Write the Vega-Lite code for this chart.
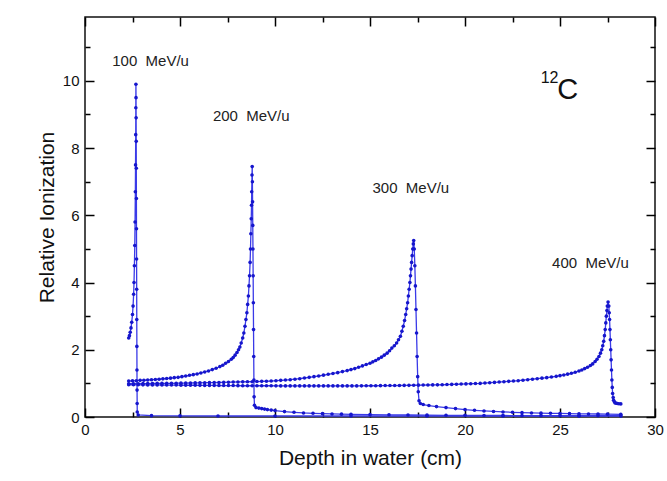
{
  "$schema": "https://vega.github.io/schema/vega-lite/v6.json",
  "width": 570,
  "height": 400,
  "autosize": {"type": "none"},
  "padding": {"left": 85, "top": 17, "right": 12, "bottom": 64},
  "background": "white",
  "config": {
    "view": {"stroke": "#111", "strokeWidth": 1.5},
    "font": "Liberation Sans",
    "axis": {"grid": false, "domain": false, "labelFlush": false, "ticks": true, "tickWidth": 1.5, "labelFont": "Liberation Sans", "titleFont": "Liberation Sans"}
  },
  "datasets": {
    "curves": [
      {"energy": "100", "depth": 2.3, "ion": 2.35}, {"energy": "100", "depth": 2.34, "ion": 2.42}, {"energy": "100", "depth": 2.38, "ion": 2.52}, {"energy": "100", "depth": 2.42, "ion": 2.65}, {"energy": "100", "depth": 2.46, "ion": 2.82}, {"energy": "100", "depth": 2.5, "ion": 3.05}, {"energy": "100", "depth": 2.53, "ion": 3.3}, {"energy": "100", "depth": 2.56, "ion": 3.65}, {"energy": "100", "depth": 2.58, "ion": 4.0}, {"energy": "100", "depth": 2.6, "ion": 4.5}, {"energy": "100", "depth": 2.62, "ion": 5.1}, {"energy": "100", "depth": 2.635, "ion": 5.8}, {"energy": "100", "depth": 2.65, "ion": 6.7}, {"energy": "100", "depth": 2.66, "ion": 7.5}, {"energy": "100", "depth": 2.67, "ion": 8.4}, {"energy": "100", "depth": 2.675, "ion": 9.2}, {"energy": "100", "depth": 2.68, "ion": 9.9}, {"energy": "100", "depth": 2.685, "ion": 9.5}, {"energy": "100", "depth": 2.69, "ion": 8.9}, {"energy": "100", "depth": 2.695, "ion": 8.2}, {"energy": "100", "depth": 2.7, "ion": 7.4}, {"energy": "100", "depth": 2.705, "ion": 6.5}, {"energy": "100", "depth": 2.71, "ion": 5.6}, {"energy": "100", "depth": 2.715, "ion": 4.7}, {"energy": "100", "depth": 2.72, "ion": 3.8}, {"energy": "100", "depth": 2.725, "ion": 2.9}, {"energy": "100", "depth": 2.73, "ion": 2.1}, {"energy": "100", "depth": 2.735, "ion": 1.4}, {"energy": "100", "depth": 2.74, "ion": 0.8}, {"energy": "100", "depth": 2.745, "ion": 0.4}, {"energy": "100", "depth": 2.75, "ion": 0.15}, {"energy": "100", "depth": 2.8, "ion": 0.06}, {"energy": "100", "depth": 3.5, "ion": 0.04}, {"energy": "100", "depth": 5, "ion": 0.035}, {"energy": "100", "depth": 7, "ion": 0.03}, {"energy": "100", "depth": 10, "ion": 0.03}, {"energy": "100", "depth": 14, "ion": 0.03}, {"energy": "100", "depth": 18, "ion": 0.03}, {"energy": "100", "depth": 22, "ion": 0.03}, {"energy": "100", "depth": 26, "ion": 0.03}, {"energy": "100", "depth": 28.2, "ion": 0.03},

      {"energy": "200", "depth": 2.3, "ion": 1.07}, {"energy": "200", "depth": 2.5, "ion": 1.075}, {"energy": "200", "depth": 2.7, "ion": 1.08}, {"energy": "200", "depth": 2.9, "ion": 1.09}, {"energy": "200", "depth": 3.1, "ion": 1.095}, {"energy": "200", "depth": 3.3, "ion": 1.1}, {"energy": "200", "depth": 3.5, "ion": 1.11}, {"energy": "200", "depth": 3.7, "ion": 1.115}, {"energy": "200", "depth": 3.9, "ion": 1.125}, {"energy": "200", "depth": 4.1, "ion": 1.135}, {"energy": "200", "depth": 4.3, "ion": 1.145}, {"energy": "200", "depth": 4.5, "ion": 1.155}, {"energy": "200", "depth": 4.7, "ion": 1.17}, {"energy": "200", "depth": 4.9, "ion": 1.18}, {"energy": "200", "depth": 5.1, "ion": 1.2}, {"energy": "200", "depth": 5.3, "ion": 1.22}, {"energy": "200", "depth": 5.5, "ion": 1.24}, {"energy": "200", "depth": 5.7, "ion": 1.26}, {"energy": "200", "depth": 5.9, "ion": 1.28}, {"energy": "200", "depth": 6.1, "ion": 1.31}, {"energy": "200", "depth": 6.3, "ion": 1.34}, {"energy": "200", "depth": 6.5, "ion": 1.37}, {"energy": "200", "depth": 6.7, "ion": 1.41}, {"energy": "200", "depth": 6.9, "ion": 1.45}, {"energy": "200", "depth": 7.1, "ion": 1.5}, {"energy": "200", "depth": 7.25, "ion": 1.54}, {"energy": "200", "depth": 7.4, "ion": 1.6}, {"energy": "200", "depth": 7.55, "ion": 1.65}, {"energy": "200", "depth": 7.7, "ion": 1.72}, {"energy": "200", "depth": 7.8, "ion": 1.77}, {"energy": "200", "depth": 7.9, "ion": 1.84}, {"energy": "200", "depth": 8.0, "ion": 1.92}, {"energy": "200", "depth": 8.08, "ion": 2.0}, {"energy": "200", "depth": 8.15, "ion": 2.08}, {"energy": "200", "depth": 8.22, "ion": 2.2}, {"energy": "200", "depth": 8.3, "ion": 2.35}, {"energy": "200", "depth": 8.36, "ion": 2.5}, {"energy": "200", "depth": 8.42, "ion": 2.7}, {"energy": "200", "depth": 8.47, "ion": 2.9}, {"energy": "200", "depth": 8.52, "ion": 3.1}, {"energy": "200", "depth": 8.56, "ion": 3.35}, {"energy": "200", "depth": 8.6, "ion": 3.6}, {"energy": "200", "depth": 8.63, "ion": 3.9}, {"energy": "200", "depth": 8.66, "ion": 4.2}, {"energy": "200", "depth": 8.69, "ion": 4.6}, {"energy": "200", "depth": 8.71, "ion": 5.0}, {"energy": "200", "depth": 8.73, "ion": 5.45}, {"energy": "200", "depth": 8.75, "ion": 5.9}, {"energy": "200", "depth": 8.765, "ion": 6.3}, {"energy": "200", "depth": 8.775, "ion": 6.7}, {"energy": "200", "depth": 8.79, "ion": 7.2}, {"energy": "200", "depth": 8.8, "ion": 7.45}, {"energy": "200", "depth": 8.81, "ion": 7.0}, {"energy": "200", "depth": 8.82, "ion": 6.4}, {"energy": "200", "depth": 8.83, "ion": 5.7}, {"energy": "200", "depth": 8.84, "ion": 5.0}, {"energy": "200", "depth": 8.85, "ion": 4.2}, {"energy": "200", "depth": 8.86, "ion": 3.4}, {"energy": "200", "depth": 8.87, "ion": 2.6}, {"energy": "200", "depth": 8.88, "ion": 1.8}, {"energy": "200", "depth": 8.89, "ion": 1.1}, {"energy": "200", "depth": 8.9, "ion": 0.6}, {"energy": "200", "depth": 8.92, "ion": 0.35}, {"energy": "200", "depth": 9.0, "ion": 0.28}, {"energy": "200", "depth": 9.15, "ion": 0.265}, {"energy": "200", "depth": 9.3, "ion": 0.25}, {"energy": "200", "depth": 9.45, "ion": 0.235}, {"energy": "200", "depth": 9.6, "ion": 0.22}, {"energy": "200", "depth": 9.8, "ion": 0.205}, {"energy": "200", "depth": 10.0, "ion": 0.19}, {"energy": "200", "depth": 10.5, "ion": 0.16}, {"energy": "200", "depth": 11, "ion": 0.14}, {"energy": "200", "depth": 11.5, "ion": 0.12}, {"energy": "200", "depth": 12, "ion": 0.11}, {"energy": "200", "depth": 12.5, "ion": 0.1}, {"energy": "200", "depth": 13, "ion": 0.09}, {"energy": "200", "depth": 13.5, "ion": 0.085}, {"energy": "200", "depth": 14, "ion": 0.08}, {"energy": "200", "depth": 15, "ion": 0.07}, {"energy": "200", "depth": 16, "ion": 0.065}, {"energy": "200", "depth": 17, "ion": 0.06}, {"energy": "200", "depth": 18, "ion": 0.055}, {"energy": "200", "depth": 19, "ion": 0.05}, {"energy": "200", "depth": 20, "ion": 0.05}, {"energy": "200", "depth": 21, "ion": 0.045}, {"energy": "200", "depth": 22, "ion": 0.045}, {"energy": "200", "depth": 23, "ion": 0.04}, {"energy": "200", "depth": 24, "ion": 0.04}, {"energy": "200", "depth": 25, "ion": 0.04}, {"energy": "200", "depth": 26, "ion": 0.04}, {"energy": "200", "depth": 27, "ion": 0.04}, {"energy": "200", "depth": 28.2, "ion": 0.04},

      {"energy": "300", "depth": 2.3, "ion": 0.99}, {"energy": "300", "depth": 2.55, "ion": 0.99}, {"energy": "300", "depth": 2.8, "ion": 0.99}, {"energy": "300", "depth": 3.05, "ion": 0.992}, {"energy": "300", "depth": 3.3, "ion": 0.995}, {"energy": "300", "depth": 3.55, "ion": 0.997}, {"energy": "300", "depth": 3.8, "ion": 1.0}, {"energy": "300", "depth": 4.05, "ion": 1.0}, {"energy": "300", "depth": 4.3, "ion": 1.0}, {"energy": "300", "depth": 4.55, "ion": 1.002}, {"energy": "300", "depth": 4.8, "ion": 1.005}, {"energy": "300", "depth": 5.05, "ion": 1.007}, {"energy": "300", "depth": 5.3, "ion": 1.01}, {"energy": "300", "depth": 5.55, "ion": 1.012}, {"energy": "300", "depth": 5.8, "ion": 1.015}, {"energy": "300", "depth": 6.05, "ion": 1.017}, {"energy": "300", "depth": 6.3, "ion": 1.02}, {"energy": "300", "depth": 6.55, "ion": 1.022}, {"energy": "300", "depth": 6.8, "ion": 1.025}, {"energy": "300", "depth": 7.05, "ion": 1.027}, {"energy": "300", "depth": 7.3, "ion": 1.03}, {"energy": "300", "depth": 7.55, "ion": 1.035}, {"energy": "300", "depth": 7.8, "ion": 1.04}, {"energy": "300", "depth": 8.05, "ion": 1.042}, {"energy": "300", "depth": 8.3, "ion": 1.045}, {"energy": "300", "depth": 8.55, "ion": 1.048}, {"energy": "300", "depth": 8.8, "ion": 1.05}, {"energy": "300", "depth": 9.05, "ion": 1.055}, {"energy": "300", "depth": 9.3, "ion": 1.06}, {"energy": "300", "depth": 9.55, "ion": 1.065}, {"energy": "300", "depth": 9.8, "ion": 1.07}, {"energy": "300", "depth": 10.05, "ion": 1.08}, {"energy": "300", "depth": 10.3, "ion": 1.09}, {"energy": "300", "depth": 10.55, "ion": 1.1}, {"energy": "300", "depth": 10.8, "ion": 1.11}, {"energy": "300", "depth": 11.05, "ion": 1.125}, {"energy": "300", "depth": 11.3, "ion": 1.14}, {"energy": "300", "depth": 11.55, "ion": 1.16}, {"energy": "300", "depth": 11.8, "ion": 1.18}, {"energy": "300", "depth": 12.05, "ion": 1.2}, {"energy": "300", "depth": 12.3, "ion": 1.22}, {"energy": "300", "depth": 12.55, "ion": 1.245}, {"energy": "300", "depth": 12.8, "ion": 1.27}, {"energy": "300", "depth": 13.05, "ion": 1.295}, {"energy": "300", "depth": 13.3, "ion": 1.32}, {"energy": "300", "depth": 13.55, "ion": 1.35}, {"energy": "300", "depth": 13.8, "ion": 1.38}, {"energy": "300", "depth": 14.0, "ion": 1.41}, {"energy": "300", "depth": 14.2, "ion": 1.44}, {"energy": "300", "depth": 14.4, "ion": 1.48}, {"energy": "300", "depth": 14.6, "ion": 1.52}, {"energy": "300", "depth": 14.8, "ion": 1.56}, {"energy": "300", "depth": 15.0, "ion": 1.6}, {"energy": "300", "depth": 15.15, "ion": 1.64}, {"energy": "300", "depth": 15.3, "ion": 1.68}, {"energy": "300", "depth": 15.45, "ion": 1.73}, {"energy": "300", "depth": 15.6, "ion": 1.78}, {"energy": "300", "depth": 15.75, "ion": 1.84}, {"energy": "300", "depth": 15.9, "ion": 1.9}, {"energy": "300", "depth": 16.03, "ion": 1.97}, {"energy": "300", "depth": 16.15, "ion": 2.05}, {"energy": "300", "depth": 16.28, "ion": 2.12}, {"energy": "300", "depth": 16.4, "ion": 2.2}, {"energy": "300", "depth": 16.5, "ion": 2.3}, {"energy": "300", "depth": 16.6, "ion": 2.4}, {"energy": "300", "depth": 16.68, "ion": 2.55}, {"energy": "300", "depth": 16.75, "ion": 2.7}, {"energy": "300", "depth": 16.82, "ion": 2.87}, {"energy": "300", "depth": 16.88, "ion": 3.05}, {"energy": "300", "depth": 16.93, "ion": 3.22}, {"energy": "300", "depth": 16.98, "ion": 3.4}, {"energy": "300", "depth": 17.02, "ion": 3.6}, {"energy": "300", "depth": 17.06, "ion": 3.8}, {"energy": "300", "depth": 17.1, "ion": 4.0}, {"energy": "300", "depth": 17.13, "ion": 4.2}, {"energy": "300", "depth": 17.16, "ion": 4.4}, {"energy": "300", "depth": 17.19, "ion": 4.6}, {"energy": "300", "depth": 17.22, "ion": 4.8}, {"energy": "300", "depth": 17.25, "ion": 5.0}, {"energy": "300", "depth": 17.28, "ion": 5.15}, {"energy": "300", "depth": 17.3, "ion": 5.25}, {"energy": "300", "depth": 17.33, "ion": 5.0}, {"energy": "300", "depth": 17.36, "ion": 4.5}, {"energy": "300", "depth": 17.39, "ion": 3.9}, {"energy": "300", "depth": 17.42, "ion": 3.2}, {"energy": "300", "depth": 17.45, "ion": 2.5}, {"energy": "300", "depth": 17.48, "ion": 1.8}, {"energy": "300", "depth": 17.51, "ion": 1.2}, {"energy": "300", "depth": 17.54, "ion": 0.75}, {"energy": "300", "depth": 17.58, "ion": 0.48}, {"energy": "300", "depth": 17.65, "ion": 0.4}, {"energy": "300", "depth": 17.8, "ion": 0.37}, {"energy": "300", "depth": 18.1, "ion": 0.34}, {"energy": "300", "depth": 18.5, "ion": 0.31}, {"energy": "300", "depth": 19, "ion": 0.28}, {"energy": "300", "depth": 19.5, "ion": 0.25}, {"energy": "300", "depth": 20, "ion": 0.22}, {"energy": "300", "depth": 20.5, "ion": 0.2}, {"energy": "300", "depth": 21, "ion": 0.18}, {"energy": "300", "depth": 21.5, "ion": 0.165}, {"energy": "300", "depth": 22, "ion": 0.15}, {"energy": "300", "depth": 22.5, "ion": 0.14}, {"energy": "300", "depth": 23, "ion": 0.13}, {"energy": "300", "depth": 23.5, "ion": 0.12}, {"energy": "300", "depth": 24, "ion": 0.115}, {"energy": "300", "depth": 24.5, "ion": 0.11}, {"energy": "300", "depth": 25, "ion": 0.105}, {"energy": "300", "depth": 25.5, "ion": 0.1}, {"energy": "300", "depth": 26, "ion": 0.095}, {"energy": "300", "depth": 26.5, "ion": 0.09}, {"energy": "300", "depth": 27, "ion": 0.09}, {"energy": "300", "depth": 27.5, "ion": 0.085}, {"energy": "300", "depth": 28.2, "ion": 0.08},

      {"energy": "400", "depth": 2.3, "ion": 0.96}, {"energy": "400", "depth": 2.55, "ion": 0.96}, {"energy": "400", "depth": 2.8, "ion": 0.96}, {"energy": "400", "depth": 3.05, "ion": 0.957}, {"energy": "400", "depth": 3.3, "ion": 0.955}, {"energy": "400", "depth": 3.55, "ion": 0.955}, {"energy": "400", "depth": 3.8, "ion": 0.955}, {"energy": "400", "depth": 4.05, "ion": 0.952}, {"energy": "400", "depth": 4.3, "ion": 0.95}, {"energy": "400", "depth": 4.55, "ion": 0.95}, {"energy": "400", "depth": 4.8, "ion": 0.95}, {"energy": "400", "depth": 5.05, "ion": 0.947}, {"energy": "400", "depth": 5.3, "ion": 0.945}, {"energy": "400", "depth": 5.55, "ion": 0.945}, {"energy": "400", "depth": 5.8, "ion": 0.945}, {"energy": "400", "depth": 6.05, "ion": 0.942}, {"energy": "400", "depth": 6.3, "ion": 0.94}, {"energy": "400", "depth": 6.55, "ion": 0.94}, {"energy": "400", "depth": 6.8, "ion": 0.94}, {"energy": "400", "depth": 7.05, "ion": 0.937}, {"energy": "400", "depth": 7.3, "ion": 0.935}, {"energy": "400", "depth": 7.55, "ion": 0.935}, {"energy": "400", "depth": 7.8, "ion": 0.935}, {"energy": "400", "depth": 8.05, "ion": 0.932}, {"energy": "400", "depth": 8.3, "ion": 0.93}, {"energy": "400", "depth": 8.55, "ion": 0.93}, {"energy": "400", "depth": 8.8, "ion": 0.93}, {"energy": "400", "depth": 9.05, "ion": 0.93}, {"energy": "400", "depth": 9.3, "ion": 0.93}, {"energy": "400", "depth": 9.55, "ion": 0.93}, {"energy": "400", "depth": 9.8, "ion": 0.93}, {"energy": "400", "depth": 10.05, "ion": 0.927}, {"energy": "400", "depth": 10.3, "ion": 0.925}, {"energy": "400", "depth": 10.55, "ion": 0.925}, {"energy": "400", "depth": 10.8, "ion": 0.925}, {"energy": "400", "depth": 11.05, "ion": 0.925}, {"energy": "400", "depth": 11.3, "ion": 0.925}, {"energy": "400", "depth": 11.55, "ion": 0.925}, {"energy": "400", "depth": 11.8, "ion": 0.925}, {"energy": "400", "depth": 12.05, "ion": 0.925}, {"energy": "400", "depth": 12.3, "ion": 0.925}, {"energy": "400", "depth": 12.55, "ion": 0.925}, {"energy": "400", "depth": 12.8, "ion": 0.925}, {"energy": "400", "depth": 13.05, "ion": 0.925}, {"energy": "400", "depth": 13.3, "ion": 0.925}, {"energy": "400", "depth": 13.55, "ion": 0.925}, {"energy": "400", "depth": 13.8, "ion": 0.925}, {"energy": "400", "depth": 14.05, "ion": 0.925}, {"energy": "400", "depth": 14.3, "ion": 0.925}, {"energy": "400", "depth": 14.55, "ion": 0.927}, {"energy": "400", "depth": 14.8, "ion": 0.93}, {"energy": "400", "depth": 15.05, "ion": 0.93}, {"energy": "400", "depth": 15.3, "ion": 0.93}, {"energy": "400", "depth": 15.55, "ion": 0.932}, {"energy": "400", "depth": 15.8, "ion": 0.935}, {"energy": "400", "depth": 16.05, "ion": 0.935}, {"energy": "400", "depth": 16.3, "ion": 0.935}, {"energy": "400", "depth": 16.55, "ion": 0.937}, {"energy": "400", "depth": 16.8, "ion": 0.94}, {"energy": "400", "depth": 17.05, "ion": 0.942}, {"energy": "400", "depth": 17.3, "ion": 0.945}, {"energy": "400", "depth": 17.55, "ion": 0.947}, {"energy": "400", "depth": 17.8, "ion": 0.95}, {"energy": "400", "depth": 18.05, "ion": 0.952}, {"energy": "400", "depth": 18.3, "ion": 0.955}, {"energy": "400", "depth": 18.55, "ion": 0.957}, {"energy": "400", "depth": 18.8, "ion": 0.96}, {"energy": "400", "depth": 19.05, "ion": 0.965}, {"energy": "400", "depth": 19.3, "ion": 0.97}, {"energy": "400", "depth": 19.55, "ion": 0.975}, {"energy": "400", "depth": 19.8, "ion": 0.98}, {"energy": "400", "depth": 20.05, "ion": 0.985}, {"energy": "400", "depth": 20.3, "ion": 0.99}, {"energy": "400", "depth": 20.55, "ion": 0.995}, {"energy": "400", "depth": 20.8, "ion": 1.0}, {"energy": "400", "depth": 21.05, "ion": 1.01}, {"energy": "400", "depth": 21.3, "ion": 1.02}, {"energy": "400", "depth": 21.55, "ion": 1.03}, {"energy": "400", "depth": 21.8, "ion": 1.04}, {"energy": "400", "depth": 22.05, "ion": 1.05}, {"energy": "400", "depth": 22.3, "ion": 1.06}, {"energy": "400", "depth": 22.55, "ion": 1.07}, {"energy": "400", "depth": 22.8, "ion": 1.08}, {"energy": "400", "depth": 23.05, "ion": 1.095}, {"energy": "400", "depth": 23.3, "ion": 1.11}, {"energy": "400", "depth": 23.55, "ion": 1.125}, {"energy": "400", "depth": 23.8, "ion": 1.14}, {"energy": "400", "depth": 24.05, "ion": 1.155}, {"energy": "400", "depth": 24.3, "ion": 1.17}, {"energy": "400", "depth": 24.55, "ion": 1.19}, {"energy": "400", "depth": 24.8, "ion": 1.21}, {"energy": "400", "depth": 25.0, "ion": 1.23}, {"energy": "400", "depth": 25.2, "ion": 1.25}, {"energy": "400", "depth": 25.4, "ion": 1.275}, {"energy": "400", "depth": 25.6, "ion": 1.3}, {"energy": "400", "depth": 25.8, "ion": 1.33}, {"energy": "400", "depth": 26.0, "ion": 1.37}, {"energy": "400", "depth": 26.15, "ion": 1.4}, {"energy": "400", "depth": 26.3, "ion": 1.44}, {"energy": "400", "depth": 26.45, "ion": 1.48}, {"energy": "400", "depth": 26.6, "ion": 1.53}, {"energy": "400", "depth": 26.72, "ion": 1.58}, {"energy": "400", "depth": 26.85, "ion": 1.65}, {"energy": "400", "depth": 26.95, "ion": 1.72}, {"energy": "400", "depth": 27.05, "ion": 1.8}, {"energy": "400", "depth": 27.13, "ion": 1.9}, {"energy": "400", "depth": 27.2, "ion": 2.0}, {"energy": "400", "depth": 27.25, "ion": 2.12}, {"energy": "400", "depth": 27.3, "ion": 2.25}, {"energy": "400", "depth": 27.34, "ion": 2.42}, {"energy": "400", "depth": 27.38, "ion": 2.6}, {"energy": "400", "depth": 27.41, "ion": 2.8}, {"energy": "400", "depth": 27.44, "ion": 3.0}, {"energy": "400", "depth": 27.47, "ion": 3.17}, {"energy": "400", "depth": 27.49, "ion": 3.3}, {"energy": "400", "depth": 27.53, "ion": 3.42}, {"energy": "400", "depth": 27.57, "ion": 3.3}, {"energy": "400", "depth": 27.59, "ion": 3.1}, {"energy": "400", "depth": 27.61, "ion": 2.9}, {"energy": "400", "depth": 27.63, "ion": 2.6}, {"energy": "400", "depth": 27.65, "ion": 2.3}, {"energy": "400", "depth": 27.67, "ion": 2.0}, {"energy": "400", "depth": 27.69, "ion": 1.7}, {"energy": "400", "depth": 27.71, "ion": 1.4}, {"energy": "400", "depth": 27.73, "ion": 1.1}, {"energy": "400", "depth": 27.75, "ion": 0.88}, {"energy": "400", "depth": 27.77, "ion": 0.7}, {"energy": "400", "depth": 27.8, "ion": 0.58}, {"energy": "400", "depth": 27.82, "ion": 0.5}, {"energy": "400", "depth": 27.86, "ion": 0.45}, {"energy": "400", "depth": 27.9, "ion": 0.42}, {"energy": "400", "depth": 27.96, "ion": 0.41}, {"energy": "400", "depth": 28.02, "ion": 0.4}, {"energy": "400", "depth": 28.1, "ion": 0.395}, {"energy": "400", "depth": 28.2, "ion": 0.39}
    ],
    "beamLabels": [
      {"depth": 3.45, "ion": 10.6, "text": "100 \u00a0MeV/u"},
      {"depth": 8.75, "ion": 8.95, "text": "200 \u00a0MeV/u"},
      {"depth": 17.15, "ion": 6.8, "text": "300 \u00a0MeV/u"},
      {"depth": 26.6, "ion": 4.57, "text": "400 \u00a0MeV/u"}
    ],
    "mass": [{"depth": 24.45, "ion": 10.1, "text": "12"}],
    "element": [{"depth": 25.4, "ion": 9.72, "text": "C"}]
  },
  "layer": [
    {
      "data": {"name": "curves"},
      "mark": {"type": "line", "color": "#3a3ae8", "strokeWidth": 1.3, "point": {"filled": true, "size": 13, "color": "#1616cc"}},
      "encoding": {
        "x": {
          "field": "depth", "type": "quantitative",
          "scale": {"domain": [0, 30], "nice": false, "zero": false},
          "axis": {
            "orient": "bottom",
            "values": [0, 2.5, 5, 7.5, 10, 12.5, 15, 17.5, 20, 22.5, 25, 27.5, 30],
            "labelExpr": "datum.value % 5 === 0 ? datum.label : ''",
            "tickSize": {"condition": {"test": "datum.value % 5 === 0", "value": -9}, "value": -5},
            "tickColor": "#000000",
            "labelFontSize": 15, "labelColor": "#111", "labelPadding": 14,
            "title": "Depth in water (cm)", "titleFontSize": 21, "titleFontWeight": "normal", "titleColor": "#111", "titlePadding": 10
          }
        },
        "y": {
          "field": "ion", "type": "quantitative",
          "scale": {"domain": [0, 11.9], "nice": false},
          "axis": {
            "orient": "left",
            "values": [0, 1, 2, 3, 4, 5, 6, 7, 8, 9, 10, 11],
            "labelExpr": "datum.value % 2 === 0 ? datum.label : ''",
            "tickSize": {"condition": {"test": "datum.value % 2 === 0", "value": -9}, "value": -5},
            "tickColor": "#000000",
            "labelFontSize": 15, "labelColor": "#111", "labelPadding": 15,
            "title": "Relative Ionization", "titleFontSize": 21, "titleFontWeight": "normal", "titleColor": "#111", "titlePadding": 5
          }
        },
        "detail": {"field": "energy"}
      }
    },
    {
      "data": {"name": "curves"},
      "mark": {"type": "point", "opacity": 0},
      "encoding": {
        "x": {
          "field": "depth", "type": "quantitative",
          "scale": {"domain": [0, 30], "nice": false, "zero": false},
          "axis": {
            "orient": "top", "labels": false, "title": null,
            "values": [0, 2.5, 5, 7.5, 10, 12.5, 15, 17.5, 20, 22.5, 25, 27.5, 30],
            "tickSize": {"condition": {"test": "datum.value % 5 === 0", "value": -9}, "value": -5},
            "tickColor": "#000000"
          }
        },
        "y": {
          "field": "ion", "type": "quantitative",
          "scale": {"domain": [0, 11.9], "nice": false},
          "axis": {
            "orient": "right", "labels": false, "title": null,
            "values": [0, 1, 2, 3, 4, 5, 6, 7, 8, 9, 10, 11],
            "tickSize": {"condition": {"test": "datum.value % 2 === 0", "value": -9}, "value": -5},
            "tickColor": "#000000"
          }
        }
      }
    },
    {
      "data": {"name": "beamLabels"},
      "mark": {"type": "text", "fontSize": 15, "color": "#222", "font": "Liberation Sans"},
      "encoding": {
        "x": {"field": "depth", "type": "quantitative", "axis": null},
        "y": {"field": "ion", "type": "quantitative", "axis": null},
        "text": {"field": "text"}
      }
    },
    {
      "data": {"name": "mass"},
      "mark": {"type": "text", "fontSize": 16, "color": "#111", "font": "Liberation Sans"},
      "encoding": {
        "x": {"field": "depth", "type": "quantitative", "axis": null},
        "y": {"field": "ion", "type": "quantitative", "axis": null},
        "text": {"field": "text"}
      }
    },
    {
      "data": {"name": "element"},
      "mark": {"type": "text", "fontSize": 29, "color": "#111", "font": "Liberation Sans"},
      "encoding": {
        "x": {"field": "depth", "type": "quantitative", "axis": null},
        "y": {"field": "ion", "type": "quantitative", "axis": null},
        "text": {"field": "text"}
      }
    }
  ],
  "resolve": {"axis": {"x": "independent", "y": "independent"}}
}
